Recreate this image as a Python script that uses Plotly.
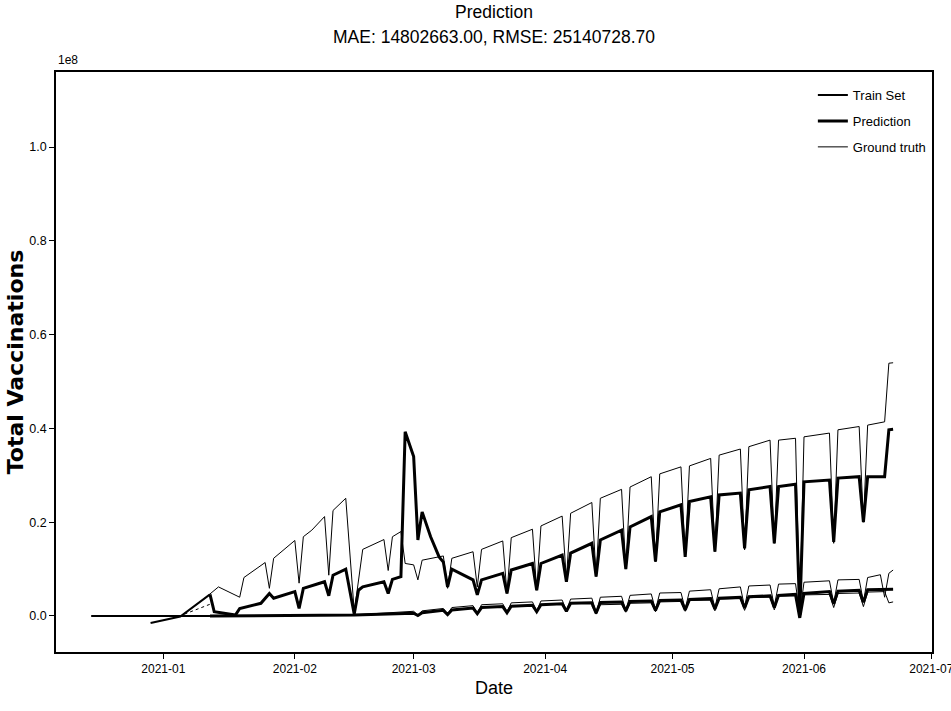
import plotly.graph_objects as go

# ---------------- data (values in units of 1e8) ----------------
train_flat_dates = ['2020-12-15', '2020-12-22', '2020-12-29', '2021-01-05', '2021-01-12']
train_flat_vals = [0.0, 0.0, 0.0, 0.0, 0.0]

train_rise_dates = ['2020-12-29', '2021-01-05', '2021-01-12']
train_rise_vals = [-0.015, -0.001, 0.046]

pred_upper_dates = ['2021-01-12', '2021-01-13', '2021-01-18', '2021-01-19', '2021-01-24', '2021-01-25',
                    '2021-01-26', '2021-01-27', '2021-02-01', '2021-02-02', '2021-02-03', '2021-02-08',
                    '2021-02-09', '2021-02-10', '2021-02-13', '2021-02-15', '2021-02-16', '2021-02-17',
                    '2021-02-22', '2021-02-23', '2021-02-24', '2021-02-26', '2021-02-27', '2021-03-01',
                    '2021-03-02', '2021-03-03', '2021-03-05', '2021-03-07', '2021-03-08', '2021-03-09',
                    '2021-03-10', '2021-03-15', '2021-03-16', '2021-03-17', '2021-03-22', '2021-03-23',
                    '2021-03-24', '2021-03-29', '2021-03-30', '2021-03-31', '2021-04-05', '2021-04-06',
                    '2021-04-07', '2021-04-12', '2021-04-13', '2021-04-14', '2021-04-19', '2021-04-20',
                    '2021-04-21', '2021-04-26', '2021-04-27', '2021-04-28', '2021-05-03', '2021-05-04',
                    '2021-05-05', '2021-05-10', '2021-05-11', '2021-05-12', '2021-05-17', '2021-05-18',
                    '2021-05-19', '2021-05-24', '2021-05-25', '2021-05-26', '2021-05-30', '2021-05-31',
                    '2021-06-01', '2021-06-07', '2021-06-08', '2021-06-09', '2021-06-14', '2021-06-15',
                    '2021-06-16', '2021-06-20', '2021-06-21', '2021-06-22']
pred_upper_vals = [0.046, 0.009, 0.002, 0.016, 0.027, 0.038,
                   0.048, 0.038, 0.052, 0.016, 0.059, 0.073,
                   0.043, 0.087, 0.100, 0.004, 0.055, 0.062,
                   0.073, 0.048, 0.078, 0.084, 0.393, 0.340,
                   0.162, 0.222, 0.169, 0.126, 0.115, 0.062,
                   0.100, 0.077, 0.045, 0.077, 0.091, 0.048,
                   0.098, 0.112, 0.055, 0.112, 0.130, 0.073,
                   0.134, 0.155, 0.084, 0.162, 0.183, 0.100,
                   0.190, 0.212, 0.116, 0.222, 0.237, 0.126,
                   0.244, 0.254, 0.137, 0.258, 0.262, 0.144,
                   0.269, 0.276, 0.155, 0.276, 0.281, 0.002,
                   0.286, 0.290, 0.158, 0.294, 0.297, 0.200,
                   0.297, 0.297, 0.397, 0.398]

pred_lower_dates = ['2021-01-12', '2021-02-15', '2021-03-01', '2021-03-02', '2021-03-03', '2021-03-08',
                    '2021-03-09', '2021-03-10', '2021-03-15', '2021-03-16', '2021-03-17', '2021-03-22',
                    '2021-03-23', '2021-03-24', '2021-03-29', '2021-03-30', '2021-03-31', '2021-04-05',
                    '2021-04-06', '2021-04-07', '2021-04-12', '2021-04-13', '2021-04-14', '2021-04-19',
                    '2021-04-20', '2021-04-21', '2021-04-26', '2021-04-27', '2021-04-28', '2021-05-03',
                    '2021-05-04', '2021-05-05', '2021-05-10', '2021-05-11', '2021-05-12', '2021-05-17',
                    '2021-05-18', '2021-05-19', '2021-05-24', '2021-05-25', '2021-05-26', '2021-05-30',
                    '2021-05-31', '2021-06-01', '2021-06-07', '2021-06-08', '2021-06-09', '2021-06-14',
                    '2021-06-15', '2021-06-16', '2021-06-22']
pred_lower_vals = [0.000, 0.002, 0.006, 0.001, 0.007, 0.012,
                   0.003, 0.013, 0.017, 0.005, 0.018, 0.020,
                   0.007, 0.021, 0.023, 0.009, 0.024, 0.026,
                   0.010, 0.027, 0.028, 0.006, 0.029, 0.030,
                   0.011, 0.031, 0.032, 0.012, 0.033, 0.034,
                   0.013, 0.035, 0.037, 0.015, 0.038, 0.040,
                   0.017, 0.041, 0.043, 0.018, 0.044, 0.046,
                   -0.004, 0.048, 0.052, 0.026, 0.053, 0.055,
                   0.029, 0.056, 0.057]

gt_upper_dates = ['2021-01-12', '2021-01-14', '2021-01-19', '2021-01-20', '2021-01-25', '2021-01-26',
                  '2021-01-27', '2021-02-01', '2021-02-02', '2021-02-03', '2021-02-05', '2021-02-08',
                  '2021-02-09', '2021-02-10', '2021-02-13', '2021-02-15', '2021-02-17', '2021-02-22',
                  '2021-02-23', '2021-02-24', '2021-02-26', '2021-02-27', '2021-03-01', '2021-03-02',
                  '2021-03-03', '2021-03-08', '2021-03-09', '2021-03-10', '2021-03-15', '2021-03-16',
                  '2021-03-17', '2021-03-22', '2021-03-23', '2021-03-24', '2021-03-29', '2021-03-30',
                  '2021-03-31', '2021-04-05', '2021-04-06', '2021-04-07', '2021-04-12', '2021-04-13',
                  '2021-04-14', '2021-04-19', '2021-04-20', '2021-04-21', '2021-04-26', '2021-04-27',
                  '2021-04-28', '2021-05-03', '2021-05-04', '2021-05-05', '2021-05-10', '2021-05-11',
                  '2021-05-12', '2021-05-17', '2021-05-18', '2021-05-19', '2021-05-24', '2021-05-25',
                  '2021-05-26', '2021-05-30', '2021-05-31', '2021-06-01', '2021-06-07', '2021-06-08',
                  '2021-06-09', '2021-06-14', '2021-06-15', '2021-06-16', '2021-06-20', '2021-06-21',
                  '2021-06-22']
gt_upper_vals = [0.047, 0.062, 0.040, 0.082, 0.114, 0.059,
                 0.123, 0.161, 0.070, 0.169, 0.183, 0.212,
                 0.087, 0.225, 0.251, 0.009, 0.142, 0.163,
                 0.097, 0.169, 0.180, 0.112, 0.109, 0.077,
                 0.119, 0.128, 0.059, 0.123, 0.137, 0.062,
                 0.142, 0.160, 0.048, 0.167, 0.185, 0.055,
                 0.192, 0.213, 0.077, 0.219, 0.242, 0.084,
                 0.251, 0.270, 0.100, 0.275, 0.297, 0.116,
                 0.303, 0.318, 0.126, 0.320, 0.336, 0.137,
                 0.343, 0.356, 0.141, 0.361, 0.375, 0.155,
                 0.375, 0.379, 0.006, 0.382, 0.390, 0.155,
                 0.397, 0.404, 0.200, 0.407, 0.414, 0.539,
                 0.540]

gt_lower_dates = ['2021-02-16', '2021-03-01', '2021-03-02', '2021-03-03', '2021-03-08', '2021-03-09',
                  '2021-03-10', '2021-03-15', '2021-03-16', '2021-03-17', '2021-03-22', '2021-03-23',
                  '2021-03-24', '2021-03-29', '2021-03-30', '2021-03-31', '2021-04-05', '2021-04-06',
                  '2021-04-07', '2021-04-12', '2021-04-13', '2021-04-14', '2021-04-19', '2021-04-20',
                  '2021-04-21', '2021-04-26', '2021-04-27', '2021-04-28', '2021-05-03', '2021-05-04',
                  '2021-05-05', '2021-05-10', '2021-05-11', '2021-05-12', '2021-05-17', '2021-05-18',
                  '2021-05-19', '2021-05-24', '2021-05-25', '2021-05-26', '2021-05-30', '2021-05-31',
                  '2021-06-01', '2021-06-07', '2021-06-08', '2021-06-09', '2021-06-14', '2021-06-15',
                  '2021-06-16', '2021-06-19', '2021-06-20', '2021-06-21', '2021-06-22']
gt_lower_vals = [0.003, 0.010, 0.002, 0.011, 0.016, 0.004,
                 0.018, 0.022, 0.006, 0.024, 0.026, 0.009,
                 0.028, 0.030, 0.011, 0.032, 0.034, 0.012,
                 0.036, 0.038, 0.005, 0.040, 0.042, 0.012,
                 0.044, 0.047, 0.013, 0.049, 0.050, 0.015,
                 0.053, 0.056, 0.017, 0.058, 0.062, 0.019,
                 0.064, 0.066, 0.021, 0.068, 0.069, 0.004,
                 0.072, 0.075, 0.027, 0.077, 0.078, 0.030,
                 0.082, 0.088, 0.040, 0.091, 0.098]

gt_lower_b_dates = ['2021-04-12', '2021-04-13', '2021-04-14', '2021-04-19', '2021-04-20', '2021-04-21',
                    '2021-04-26', '2021-04-27', '2021-04-28', '2021-05-03', '2021-05-04', '2021-05-05',
                    '2021-05-10', '2021-05-11', '2021-05-12', '2021-05-17', '2021-05-18', '2021-05-19',
                    '2021-05-24', '2021-05-25', '2021-05-26', '2021-05-30', '2021-05-31', '2021-06-01',
                    '2021-06-07', '2021-06-08', '2021-06-09', '2021-06-14', '2021-06-15', '2021-06-16',
                    '2021-06-20', '2021-06-21', '2021-06-22']
gt_lower_b_vals = [0.022, 0.004, 0.024, 0.025, 0.008, 0.027,
                   0.028, 0.009, 0.030, 0.031, 0.010, 0.033,
                   0.034, 0.011, 0.036, 0.037, 0.012, 0.039,
                   0.040, 0.013, 0.042, 0.043, 0.000, 0.045,
                   0.046, 0.018, 0.048, 0.049, 0.020, 0.051,
                   0.052, 0.028, 0.030]

gt_dotted_dates = ['2021-01-06', '2021-01-12']
gt_dotted_vals = [0.004, 0.025]

title_line1 = 'Prediction'
title_line2 = 'MAE: 14802663.00, RMSE: 25140728.70'
y_ticks = [0.0, 0.2, 0.4, 0.6, 0.8, 1.0]

# ---------------- figure ----------------
SANS = 'Liberation Sans Narrow, Liberation Sans, Arial, sans-serif'

fig = go.Figure()


def add(dates, vals, name, width, show, dash='solid'):
    fig.add_trace(go.Scatter(
        x=dates, y=vals, mode='lines', name=name, legendgroup=name,
        showlegend=show, line=dict(color='black', width=width, dash=dash),
    ))


add(train_flat_dates, train_flat_vals, 'Train Set', 2.0, True)
add(train_rise_dates, train_rise_vals, 'Train Set', 2.0, False)
add(pred_upper_dates, pred_upper_vals, 'Prediction', 3.0, True)
add(pred_lower_dates, pred_lower_vals, 'Prediction', 3.0, False)
add(gt_upper_dates, gt_upper_vals, 'Ground truth', 1.0, True)
add(gt_lower_dates, gt_lower_vals, 'Ground truth', 1.0, False)
add(gt_lower_b_dates, gt_lower_b_vals, 'Ground truth', 1.0, False)
add(gt_dotted_dates, gt_dotted_vals, 'Ground truth', 1.0, False, 'dot')

fig.update_layout(
    width=951, height=711,
    margin=dict(l=56, r=19, t=72, b=59, autoexpand=False),
    paper_bgcolor='white', plot_bgcolor='white',
    title=dict(text=title_line1, x=0.5, xref='paper', xanchor='center',
               y=1 - 12 / 711, yref='container', yanchor='middle',
               font=dict(family=SANS, size=17.5, color='black')),
    showlegend=True,
    legend=dict(x=0.864, y=0.986, xanchor='left', yanchor='top',
                bgcolor='rgba(255,255,255,0)', borderwidth=0,
                traceorder='grouped', tracegroupgap=6,
                font=dict(family=SANS, size=13, color='black')),
    font=dict(family=SANS, color='black'),
)

fig.update_xaxes(
    type='date', range=['2020-12-06 17:00', '2021-07-01 04:00'],
    tick0='2021-01-01', dtick='M1', tickformat='%Y-%m',
    showline=True, linecolor='black', linewidth=1.5, mirror=True,
    ticks='outside', ticklen=5, tickwidth=1, tickcolor='black',
    tickfont=dict(family=SANS, size=12, color='black'),
    ticklabeloverflow='allow',
    showgrid=False, zeroline=False,
    title=dict(text='Date', font=dict(family=SANS, size=18, color='black'), standoff=6),
)

fig.update_yaxes(
    range=[-0.0768, 1.160],
    tickvals=y_ticks, tickformat='.1f',
    showline=True, linecolor='black', linewidth=1.5, mirror=True,
    ticks='outside', ticklen=5, tickwidth=1, tickcolor='black',
    tickfont=dict(family=SANS, size=12.5, color='black'),
    showgrid=False, zeroline=False,
    title=dict(text='Total Vaccinations',
               font=dict(family='DejaVu Sans', size=22, color='black', weight='bold'), standoff=0),
)

fig.add_annotation(text=title_line2, xref='paper', yref='paper', x=0.5, y=1.0,
                   xanchor='center', yanchor='middle', yshift=35, showarrow=False,
                   font=dict(family=SANS, size=17.5, color='black'))

fig.add_annotation(text='1e8', xref='paper', yref='paper', x=0.0, y=1.0,
                   xanchor='left', yanchor='bottom', yshift=3, showarrow=False,
                   font=dict(family=SANS, size=12, color='black'))

# remove the browser's default 8 px body margin so the figure sits at the page origin
fig.write_html('out.html', config={'displayModeBar': False},
               post_script="document.body.style.margin='0px';")
